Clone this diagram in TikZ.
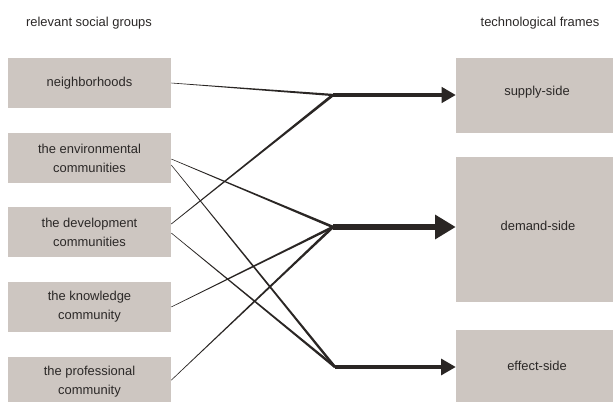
\documentclass[tikz,border=0pt]{standalone}
\usepackage{fontspec}
\setmainfont{Liberation Sans}
\usetikzlibrary{arrows.meta,calc}
\definecolor{boxfill}{HTML}{CDC6C1}
\definecolor{ink}{HTML}{2A2624}
\definecolor{txt}{HTML}{2B2827}
\newcommand\taperline[4]{%
  \fill[ink] ($(#1)!#3!90:(#2)$) -- ($(#2)!#4!-90:(#1)$) -- ($(#2)!#4!90:(#1)$) -- ($(#1)!#3!-90:(#2)$) -- cycle;}
\tikzset{
  leftbox/.style={fill=boxfill, draw=none, minimum width=122.25pt, minimum height=37.5pt, inner sep=0pt, align=center, text=txt},
  rightbox/.style={fill=boxfill, draw=none, minimum width=121.5pt, inner sep=0pt},
  lbl/.style={text=txt, inner sep=0pt, align=center},
  arr/.style={draw=ink, line width=#1},
}
\begin{document}
\begin{tikzpicture}[x=0.75pt,y=-0.75pt,font=\fontsize{9.7}{14.2}\selectfont]
\clip (0,0) rectangle (613,402);
\fill[white] (0,0) rectangle (613,402);
% headers
\node[lbl] (hl) at (89,23) {relevant social groups};
\node[lbl] (hr) at (540,23) {technological frames};
% left boxes
\node[leftbox] (nb) at (89.5,83) {neighborhoods};
\node[leftbox] (env) at (89.5,158) {the environmental\\communities};
\node[leftbox] (dev) at (89.5,232) {the development\\communities};
\node[leftbox] (kn) at (89.5,307) {the knowledge\\community};
\node[leftbox] (pro) at (89.5,381.5) {the professional\\community};
% right boxes
\node[rightbox, minimum height=56.25pt] (sup) at (537,95.5) {};
\node[rightbox, minimum height=108.75pt] (dem) at (537,229.5) {};
\node[rightbox, minimum height=60pt] (eff) at (537,370) {};
\node[lbl] (supt) at (537,92) {supply-side};
\node[lbl] (demt) at (538,226) {demand-side};
\node[lbl] (efft) at (537,366) {effect-side};
% junctions
\coordinate (S) at (333,95);
\coordinate (D) at (333,227);
\coordinate (E) at (335,367);
% start points
\coordinate (nb1) at ([yshift=0pt]nb.east);
\coordinate (env1) at ([yshift=-0.75pt]env.east);
\coordinate (env2) at ([yshift=-5.25pt]env.east);
\coordinate (dev1) at ([yshift=6pt]dev.east);
\coordinate (dev2) at ([yshift=-0.75pt]dev.east);
\coordinate (kn1) at (kn.east);
\coordinate (pro1) at ([yshift=1pt]pro.east);
% tapered connectors
\taperline{nb1}{S}{0.2pt}{0.85pt}
\taperline{dev1}{S}{0.25pt}{1.05pt}
\taperline{env1}{D}{0.2pt}{1.0pt}
\taperline{kn1}{D}{0.2pt}{0.95pt}
\taperline{pro1}{D}{0.2pt}{1.0pt}
\taperline{env2}{E}{0.2pt}{0.95pt}
\taperline{dev2}{E}{0.2pt}{0.95pt}
% arrows
\draw[arr=2.3pt, -{Triangle[length=10.5pt,width=11.5pt]}] (S) -- (S -| sup.west);
\draw[arr=3.8pt, -{Triangle[length=15.5pt,width=17.5pt]}] (D) -- (D -| dem.west);
\draw[arr=2.3pt, -{Triangle[length=11pt,width=12pt]}] (E) -- (E -| eff.west);
\end{tikzpicture}
\end{document}
